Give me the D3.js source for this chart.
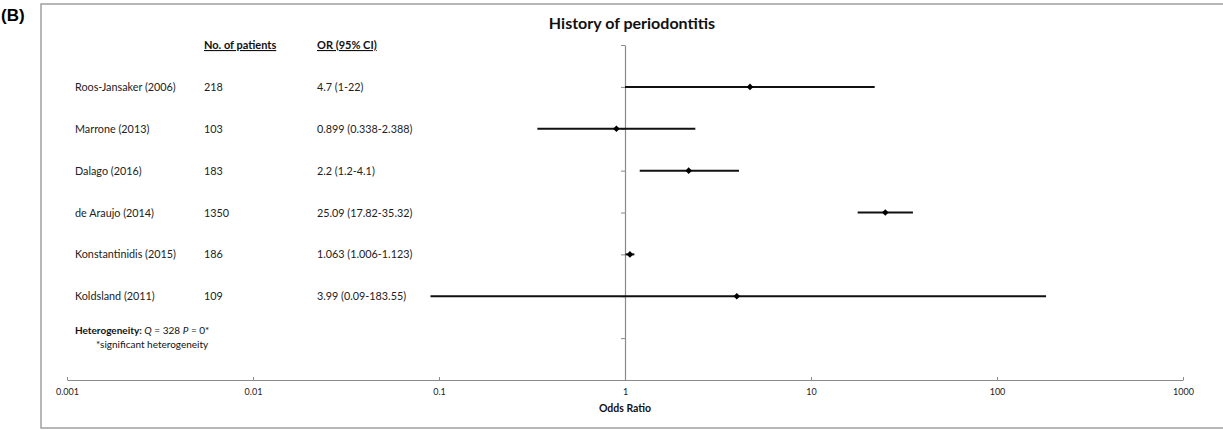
<!DOCTYPE html>
<html>
<head>
<meta charset="utf-8">
<script src="https://cdn.jsdelivr.net/npm/d3@7"></script>
<style>
  body { margin: 0; background: #fff; }
  text { font-family: Lato, "Open Sans", sans-serif; }
</style>
</head>
<body>
<div id="chart"></div>
<script>
// Dades del forest plot
const studies = ["Roos-Jansaker (2006)", "Marrone (2013)", "Dalago (2016)", "de Araujo (2014)", "Konstantinidis (2015)", "Koldsland (2011)"];
const patients = [218, 103, 183, 1350, 186, 109];
const orLabels = ["4.7 (1-22)", "0.899 (0.338-2.388)", "2.2 (1.2-4.1)", "25.09 (17.82-35.32)", "1.063 (1.006-1.123)", "3.99 (0.09-183.55)"];
const oddsRatio = [4.7, 0.899, 2.2, 25.09, 1.063, 3.99];
const lower = [1, 0.338, 1.2, 17.82, 1.006, 0.09];
const upper = [22, 2.388, 4.1, 35.32, 1.123, 183.55];
const xTicks = [0.001, 0.01, 0.1, 1, 10, 100, 1000];
const yTicks = [1, 2, 3, 4, 5, 6, 7, 8];

const W = 1223, H = 430;

const svg = d3.select("#chart").append("svg")
    .attr("width", W)
    .attr("height", H);

// Marc del gràfic
svg.append("rect")
    .attr("x", 41).attr("y", 4)
    .attr("width", 1200).attr("height", 424)
    .attr("fill", "none")
    .attr("stroke", "#a0a0a0")
    .attr("stroke-width", 1.5);

svg.append("text")
    .attr("x", 1).attr("y", 21)
    .attr("font-weight", "bold")
    .attr("font-size", "17px")
    .style("font-family", "'Liberation Sans', Arial, sans-serif")
    .text("(B)");

// Escales
const x = d3.scaleLog().domain([0.001, 1000]).range([67, 1183]);
const y = d3.scaleLinear().domain([0, 8]).range([380, 45]);
const rowY = (d, i) => y(7 - i);

// Eix X
const xAxis = svg.append("g")
    .attr("transform", `translate(0,${y(0)})`)
    .call(d3.axisBottom(x)
        .tickValues(xTicks)
        .tickFormat(d => String(d))
        .tickSizeInner(-3)
        .tickSizeOuter(0)
        .tickPadding(9));
xAxis.select(".domain").attr("stroke", "#8a8a8a").attr("stroke-width", 1.2);
xAxis.selectAll(".tick line").attr("stroke", "#8a8a8a");
xAxis.selectAll(".tick text")
    .attr("font-size", "9px")
    .attr("fill", "#222")
    .style("font-family", "Lato, 'Open Sans', sans-serif");

// Eix vertical a OR = 1
const yAxis = svg.append("g")
    .attr("transform", `translate(${x(1)},0)`)
    .call(d3.axisLeft(y)
        .tickValues(yTicks)
        .tickFormat("")
        .tickSizeInner(4)
        .tickSizeOuter(0));
yAxis.select(".domain").attr("stroke", "#8a8a8a").attr("stroke-width", 1.2);
yAxis.selectAll(".tick line").attr("stroke", "#8a8a8a");

// Títols
svg.append("text")
    .attr("x", 632).attr("y", 29)
    .attr("text-anchor", "middle")
    .attr("font-weight", "bold")
    .attr("font-size", "16px")
    .attr("fill", "#111")
    .text("History of periodontitis");

svg.append("text")
    .attr("x", x(1)).attr("y", 412)
    .attr("text-anchor", "middle")
    .attr("font-weight", "bold")
    .attr("font-size", "10.5px")
    .attr("fill", "#111")
    .text("Odds Ratio");

// Capçaleres de columnes
[["No. of patients", 204], ["OR (95% CI)", 317]].forEach(([t, cx]) => {
    svg.append("text")
        .attr("x", cx).attr("y", 49)
        .attr("font-weight", "bold")
        .attr("font-size", "11px")
        .attr("fill", "#111")
        .attr("text-decoration", "underline")
        .text(t);
});

// Columnes de text
const cols = [[studies, 75], [patients, 204], [orLabels, 317]];
cols.forEach(([arr, cx]) => {
    svg.selectAll(null)
        .data(arr)
        .enter()
        .append("text")
        .attr("x", cx)
        .attr("y", (d, i) => rowY(d, i) + 4)
        .attr("font-size", "10.8px")
        .attr("fill", "#222")
        .text(d => d);
});

// Intervals de confiança
svg.selectAll("line.ci")
    .data(oddsRatio)
    .enter()
    .append("line")
    .attr("class", "ci")
    .attr("x1", (d, i) => x(lower[i]))
    .attr("x2", (d, i) => x(upper[i]))
    .attr("y1", rowY)
    .attr("y2", rowY)
    .attr("stroke", "#111")
    .attr("stroke-width", 2);

// Punts (rombes)
svg.selectAll("path.pt")
    .data(oddsRatio)
    .enter()
    .append("path")
    .attr("class", "pt")
    .attr("d", d3.symbol(d3.symbolSquare, 22))
    .attr("transform", (d, i) => `translate(${x(d)},${rowY(d, i)}) rotate(45)`)
    .attr("fill", "#000");

// Heterogeneïtat
const het = svg.append("text")
    .attr("x", 75).attr("y", 334)
    .attr("font-size", "10px")
    .attr("fill", "#111");
het.append("tspan").attr("font-weight", "bold").text("Heterogeneity:");
het.append("tspan").text(" ");
het.append("tspan").attr("font-style", "italic").text("Q");
het.append("tspan").text(" = 328 ");
het.append("tspan").attr("font-style", "italic").text("P");
het.append("tspan").text(" = 0*");

svg.append("text")
    .attr("x", 96).attr("y", 348)
    .attr("font-size", "10px")
    .attr("fill", "#111")
    .text("*significant heterogeneity");
</script>
</body>
</html>
